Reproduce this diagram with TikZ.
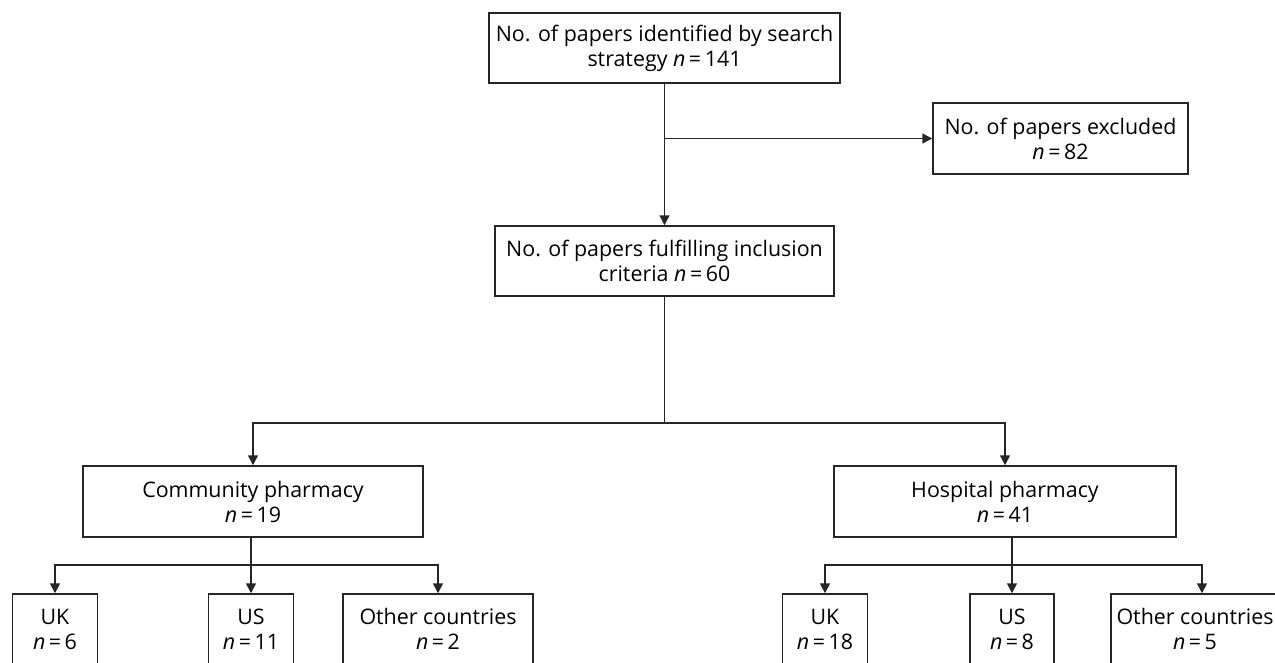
\documentclass[tikz,border=0pt]{standalone}
\usepackage{fontspec}
\setmainfont{Open Sans}
\usetikzlibrary{arrows.meta}
\newcommand{\nval}[1]{\textit{n}\,=\,#1}

\begin{document}
\begin{tikzpicture}[x=1pt,y=-1pt,
  box/.style={draw=black!85,line width=1.5pt,align=center,inner sep=0pt,
    minimum height=70pt,font=\fontsize{21.4}{25}\selectfont},
  ln/.style={draw=black!85,line width=1.5pt},
  arr/.style={ln,-{Triangle[length=10pt,width=10pt]}}]
\useasboundingbox (0,0) rectangle (1275,662);
\node[box,minimum width=351pt] (search) at (664.5,48) {No. of papers identified by search\\strategy \nval{141}};
\node[box,minimum width=255pt,minimum height=71pt] (excl) at (1060.5,138.5) {No. of papers excluded\\\nval{82}};
\node[box,minimum width=339pt] (incl) at (664.5,261) {No. of papers fulfilling inclusion\\criteria \nval{60}};
\node[box,minimum width=340pt,minimum height=71pt] (comm) at (253,501.5) {Community pharmacy\\\nval{19}};
\node[box,minimum width=342pt,minimum height=71pt] (hosp) at (1005,501.5) {Hospital pharmacy\\\nval{41}};
\node[box,minimum width=85pt] (cuk) at (55,629) {UK\\\nval{6}};
\node[box,minimum width=85pt] (cus) at (251,629) {US\\\nval{11}};
\node[box,minimum width=190pt] (coth) at (438,629) {Other countries\\\nval{2}};
\node[box,minimum width=85pt] (huk) at (825,629) {UK\\\nval{18}};
\node[box,minimum width=84pt] (hus) at (1012,629) {US\\\nval{8}};
\node[box,minimum width=168pt] (hoth) at (1195,629) {Other countries\\\nval{5}};
\coordinate (split) at (664.5,423);
\coordinate (csplit) at (251,565);
\coordinate (hsplit) at (1012,565);
\draw[arr] (search.south) -- (incl.north);
\draw[arr] (search.south |- excl.west) -- (excl.west);
\draw[ln] (incl.south) -- (split);
\draw[arr] (split) -| (comm.north);
\draw[arr] (split) -| (hosp.north);
\draw[ln] (comm.south -| csplit) -- (csplit);
\draw[arr] (csplit) -| (cuk.north);
\draw[arr] (csplit) -- (cus.north);
\draw[arr] (csplit) -| (coth.north);
\draw[ln] (hosp.south -| hsplit) -- (hsplit);
\draw[arr] (hsplit) -| (huk.north);
\draw[arr] (hsplit) -- (hus.north);
\draw[arr] (hsplit) -| ([xshift=7pt]hoth.north);
\end{tikzpicture}
\end{document}
